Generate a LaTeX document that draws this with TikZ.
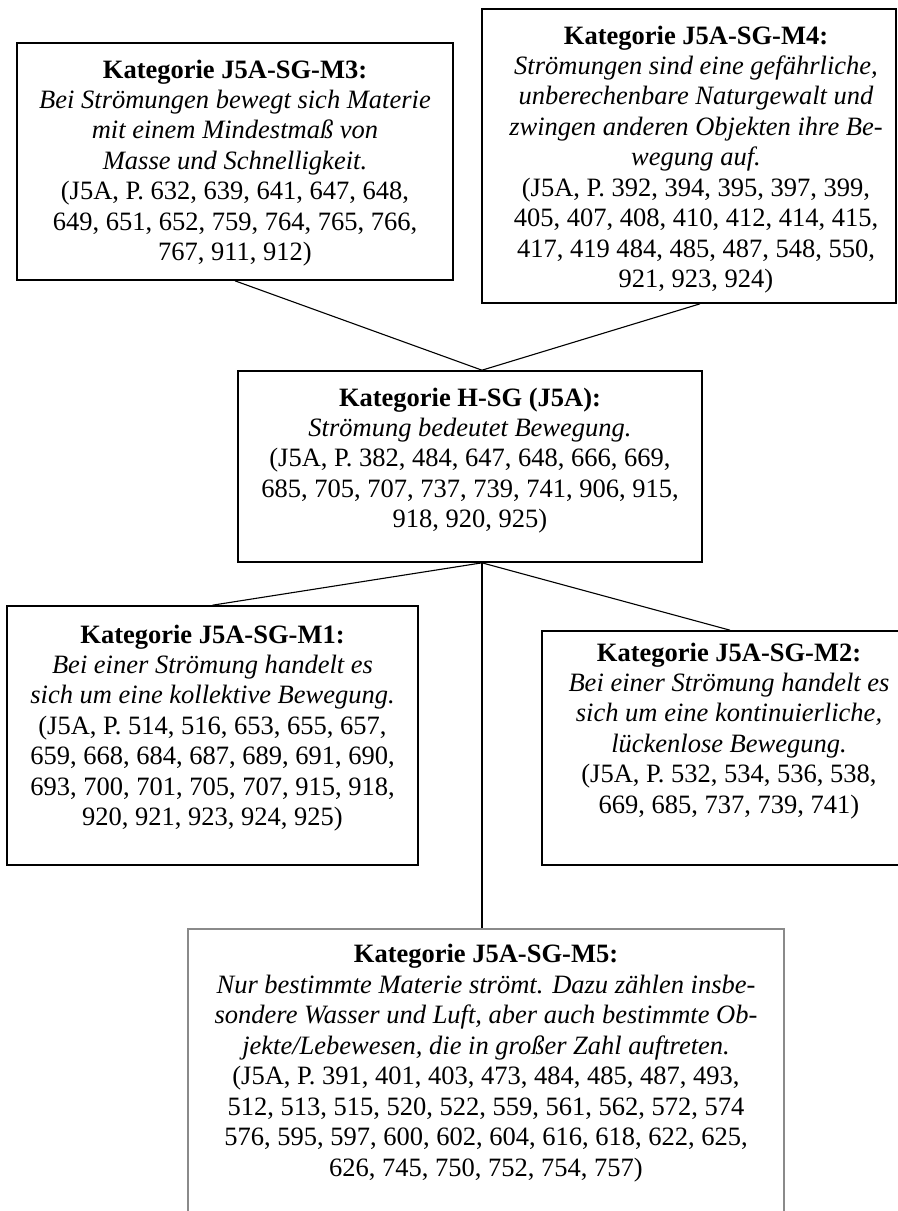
\documentclass[tikz,border=0pt]{standalone}
\usepackage{fontspec}
\setmainfont{Liberation Serif}
\usetikzlibrary{fit,calc}
\definecolor{framegrey}{HTML}{8A8A8A}
\begin{document}
\begin{tikzpicture}[x=0.4528pt,y=-0.4528pt,
  box/.style={draw=black, line width=0.75pt, inner sep=0pt},
  greybox/.style={draw=framegrey, line width=0.9pt, inner sep=0pt},
  txt/.style={align=center, inner sep=0pt, anchor=north,
    font=\fontsize{12pt}{13.8pt}\selectfont},
  link/.style={draw=black, line width=0.5pt}]
\useasboundingbox (0,0) rectangle (897,1211);

% frames of the six categories
\node[box, fit={(17,43) (453,280)}] (m3) {};
\node[box, fit={(482,9) (896,303)}] (m4) {};
\node[box, fit={(238,371) (702,562)}] (hsg) {};
\node[box, fit={(7,606) (418,865)}] (m1) {};
\node[box, fit={(542,631) (918,865)}] (m2) {};
\node[greybox, fit={(188,929) (784,1240)}] (m5) {};

% texts inside the frames
\node[txt] (m3t) at ($(m3.north)+(0,17)$) {\textbf{Kategorie J5A-SG-M3:}\\
\textit{Bei Strömungen bewegt sich Materie}\\
\textit{mit einem Mindestmaß von}\\
\textit{Masse und Schnelligkeit.}\\
(J5A, P. 632, 639, 641, 647, 648,\\
649, 651, 652, 759, 764, 765, 766,\\
767, 911, 912)};

\node[txt] (m4t) at ($(m4.north)+(7,17)$) {\textbf{Kategorie J5A-SG-M4:}\\
\textit{Strömungen sind eine gefährliche,}\\
\textit{unberechenbare Naturgewalt und}\\
\textit{zwingen anderen Objekten ihre Be-}\\
\textit{wegung auf.}\\
(J5A, P. 392, 394, 395, 397, 399,\\
405, 407, 408, 410, 412, 414, 415,\\
417, 419 484, 485, 487, 548, 550,\\
921, 923, 924)};

\node[txt] (hsgt) at ($(hsg.north)+(0,17)$) {\textbf{Kategorie H-SG (J5A):}\\
\textit{Strömung bedeutet Bewegung.}\\
(J5A, P. 382, 484, 647, 648, 666, 669,\\
685, 705, 707, 737, 739, 741, 906, 915,\\
918, 920, 925)};

\node[txt] (m1t) at ($(m1.north)+(0,19)$) {\textbf{Kategorie J5A-SG-M1:}\\
\textit{Bei einer Strömung handelt es}\\
\textit{sich um eine kollektive Bewegung.}\\
(J5A, P. 514, 516, 653, 655, 657,\\
659, 668, 684, 687, 689, 691, 690,\\
693, 700, 701, 705, 707, 915, 918,\\
920, 921, 923, 924, 925)};

\node[txt] (m2t) at ($(m2.north)+(-1,12)$) {\textbf{Kategorie J5A-SG-M2:}\\
\textit{Bei einer Strömung handelt es}\\
\textit{sich um eine kontinuierliche,}\\
\textit{lückenlose Bewegung.}\\
(J5A, P. 532, 534, 536, 538,\\
669, 685, 737, 739, 741)};

\node[txt] (m5t) at ($(m5.north)+(0,16)$) {\textbf{Kategorie J5A-SG-M5:}\\
\textit{Nur bestimmte Materie strömt. Dazu zählen insbe-}\\
\textit{sondere Wasser und Luft, aber auch bestimmte Ob-}\\
\textit{jekte/Lebewesen, die in großer Zahl auftreten.}\\
(J5A, P. 391, 401, 403, 473, 484, 485, 487, 493,\\
512, 513, 515, 520, 522, 559, 561, 562, 572, 574\\
576, 595, 597, 600, 602, 604, 616, 618, 622, 625,\\
626, 745, 750, 752, 754, 757)};

% attachment points of the connectors
\coordinate (htop) at ($(hsg.north)+(12,0)$);
\coordinate (hbot) at ($(hsg.south)+(12,0)$);
\coordinate (m4bot) at ($(m4.south)+(11,0)$);
\coordinate (m5top) at (hbot |- m5.north);

% connectors
\draw[link] (m3.south) -- (htop);
\draw[link] (m4bot) -- (htop);
\draw[link] (hbot) -- (m1.north);
\draw[link] (hbot) -- (m2.north);
\draw[link] (hbot) -- (m5top);
\end{tikzpicture}
\end{document}
